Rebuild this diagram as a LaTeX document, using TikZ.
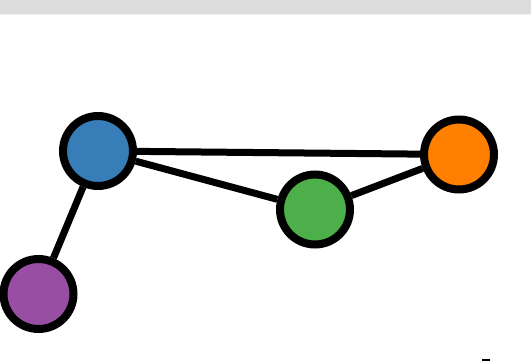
\documentclass[tikz,border=0pt]{standalone}
\definecolor{nblue}{HTML}{377EB8}
\definecolor{norange}{HTML}{FF7F00}
\definecolor{ngreen}{HTML}{4DAF4A}
\definecolor{npurple}{HTML}{984EA3}
\definecolor{bargray}{HTML}{DDDDDD}
\definecolor{barline}{HTML}{EEEEEE}
\begin{document}
\begin{tikzpicture}[x=1pt,y=-1pt,
  vert/.style={circle,draw=black,line width=8pt,minimum size=70pt,inner sep=0pt},
  edge/.style={draw=black,line width=7pt}]
\useasboundingbox (0,0) rectangle (531,361);
\fill[white] (0,0) rectangle (531,361);
\fill[bargray] (0,0) rectangle (531,14);
\fill[barline] (0,14) rectangle (531,15);
\node[vert,fill=nblue] (b) at (98,151) {};
\node[vert,fill=norange] (o) at (459,154.5) {};
\node[vert,fill=ngreen] (g) at (315,209.5) {};
\node[vert,fill=npurple] (p) at (38.5,294) {};
\draw[edge] (b) -- (o);
\draw[edge] (b) -- (g);
\draw[edge] (g) -- (o);
\draw[edge] (b) -- (p);
\fill[black] (482,359) rectangle (490,361);
\end{tikzpicture}
\end{document}
